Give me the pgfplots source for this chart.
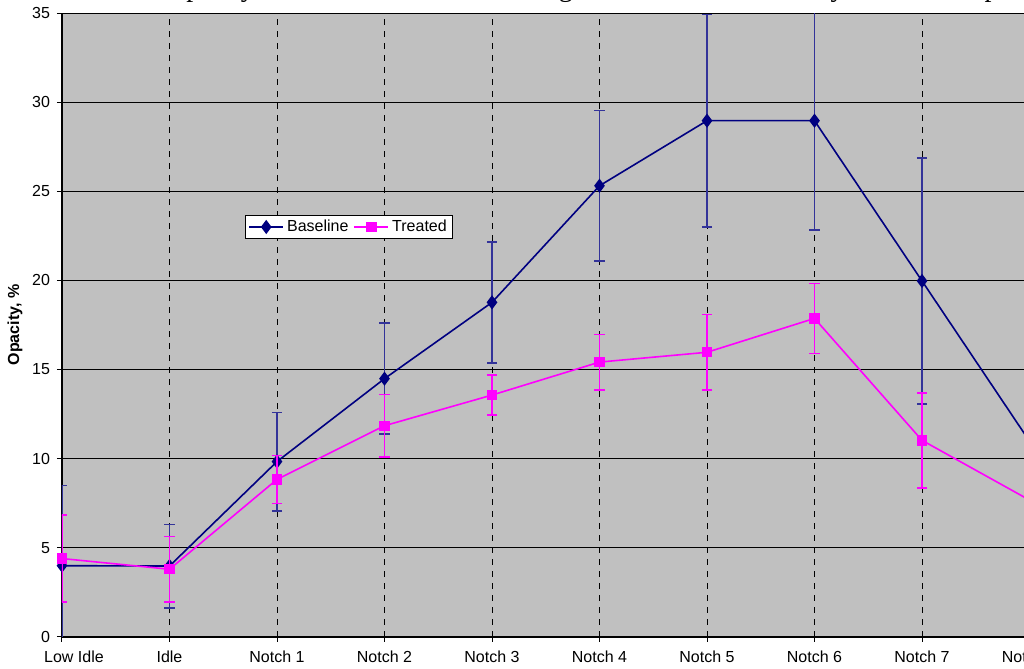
\documentclass[border=0pt]{standalone}
\usepackage{pgfplots}
\pgfplotsset{compat=1.18}
\usepackage{pgfplotstable}
\usepackage{fontspec}
\setmainfont{Liberation Sans}
\newfontfamily\titlefont{Liberation Serif}
\definecolor{basecol}{RGB}{0,0,128}
\definecolor{baseerr}{RGB}{51,51,153}
\definecolor{treatcol}{RGB}{255,0,255}
\definecolor{plotbg}{RGB}{192,192,192}

\pgfplotstableread{
x y e
0 4.00 4.50
1 3.98 2.34
2 9.84 2.76
3 14.49 3.11
4 18.77 3.39
5 25.31 4.23
6 28.96 5.96
7 28.96 6.13
8 19.97 6.90
9 10.98 5.00
}\basetab

\pgfplotstableread{
x y e
0 4.40 2.44
1 3.80 1.83
2 8.84 1.35
3 11.85 1.76
4 13.57 1.12
5 15.42 1.55
6 15.97 2.13
7 17.87 1.96
8 11.03 2.67
9 7.68 2.00
}\treattab

\begin{document}
\begin{tikzpicture}
\useasboundingbox (-31pt,-16pt) rectangle (481pt,318.5pt);
\clip (-31pt,-16pt) rectangle (481pt,318.5pt);
\begin{axis}[
  at={(0pt,0pt)}, anchor=south west,
  x=53.75pt, y=8.914pt,
  xmin=0, xmax=9, ymin=0, ymax=35,
  axis background/.style={fill=plotbg},
  axis x line*=bottom, axis y line*=left,
  axis line style={black, line width=0.6pt},
  xtick={0,...,9},
  xticklabels={\hspace{12pt}Low Idle,Idle,Notch 1,Notch 2,Notch 3,Notch 4,Notch 5,Notch 6,Notch 7,Notch 8},
  ytick={0,5,...,30},
  extra y ticks={35},
  extra y tick style={grid style={gray!90!black, line width=0.8pt}},
  tick align=outside, major tick length=2.5pt,
  tick style={black, line width=0.5pt},
  xmajorgrids, ymajorgrids,
  major x grid style={black, dashed, dash pattern=on 3pt off 3pt, line width=0.5pt},
  major y grid style={black, line width=0.5pt},
  tick label style={font=\fontsize{8}{9}\selectfont},
  /pgf/number format/assume math mode=true,
  xticklabel style={yshift=-1pt},
  ylabel={Opacity, \%},
  ylabel style={font=\bfseries\fontsize{8}{9}\selectfont, at={(axis description cs:-0.0486,0.5)}, anchor=center},
  clip mode=individual,
  legend columns=2,
  legend style={at={(0.189,0.676)}, anchor=north west, draw=black, fill=white,
    font=\fontsize{8}{9}\selectfont, inner xsep=1.5pt, inner ysep=0.5pt, line width=0.5pt,
    nodes={inner sep=1.5pt},
    /tikz/every even column/.append style={column sep=1pt}},
  legend cell align=left,
]
\addplot[color=basecol, line width=0.8pt, mark=diamond*, mark size=2.9pt,
  mark options={fill=basecol, solid},
  error bars/.cd, y dir=both, y explicit,
  error bar style={color=baseerr, line width=0.8pt},
  error mark options={rotate=90, mark size=2.6pt, color=baseerr, line width=0.8pt}]
  table[x=x, y=y, y error=e] {\basetab};
\addlegendentry{Baseline}
\addplot[color=treatcol, line width=0.8pt, mark=square*, mark size=2.2pt,
  mark options={fill=treatcol, solid},
  error bars/.cd, y dir=both, y explicit,
  error bar style={color=treatcol, line width=0.8pt},
  error mark options={rotate=90, mark size=2.6pt, color=treatcol, line width=0.8pt}]
  table[x=x, y=y, y error=e] {\treattab};
\addlegendentry{Treated}
\end{axis}
\node[anchor=base west, inner sep=0pt, font=\titlefont\fontsize{14}{16}\selectfont] at (16.5pt,320.4pt)
  {Mean Opacity Measurements taken during the Locomotive Test by Throttle Step};
\end{tikzpicture}
\end{document}
